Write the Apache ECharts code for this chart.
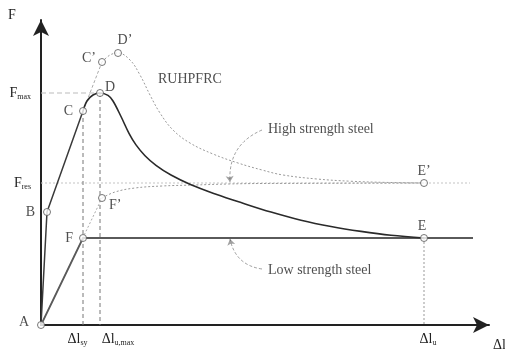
<!DOCTYPE html>
<html><head><meta charset="utf-8">
<script src="https://cdn.jsdelivr.net/npm/echarts@6/dist/echarts.min.js"></script>
<style>html,body{margin:0;padding:0;background:#fff}#c{width:505px;height:351px}</style>
</head><body><div id="c"></div>
<script>
// ---- data (schematic units: displacement, force) ----
const pointNames = ['A','B','C','D','C\u2019','D\u2019','F','F\u2019','E','E\u2019'];
const pointX = [0, 6, 42, 59, 61, 77, 42, 61, 383, 383];
const pointY = [0, 113, 214, 232, 263, 272, 87, 127, 87, 142];

const ruhpfrcLinear = [[0,0],[6,113],[42,214]];
const ruhpfrcCurve = [[42,214],[46,224],[52,230],[59,232],[67,229.6],[72,224],[80,208.5],[88,191.7],[95,180.1],[104,169.3],[115,159.7],[130,150],[150,140.3],[175,130.8],[200,122.4],[230,112.9],[260,104.8],[290,98.5],[320,93.6],[350,89.7],[383,87]];
const combinedRise = [[42,214],[61,263]];
const combinedCurve = [[61,263],[69,270],[77,272],[89,265],[99,250],[109,230],[119,212],[132,195],[149,182],[172,171],[197,162],[221,155],[242,150],[276,146],[309,143.8],[345,142.6],[383,142]];
const highSteelLinear = [[0,0],[61,127]];
const highSteelCurve = [[61,127],[74,133],[94,137],[121,139],[154,140],[187,141],[221,141.5],[383,142]];
const lowSteel = [[0,0],[42,87],[383,87],[432,87]];
const fResLine = [[0,142],[429,142]];
const fMaxLine = [[0,232],[59,232]];
const vSy = [[42,214],[42,0]];
const vUmax = [[59,232],[59,0]];
const vU = [[383,87],[383,0]];
const fMax = 232, fRes = 142;
const xTickValues = [42, 59, 383];
const xTickSubs = ['sy', 'u,max', 'u'];
const annotations = [
  {name:'RUHPFRC', value:[117,246]},
  {name:'High strength steel', value:[227,196]},
  {name:'Low strength steel', value:[227,55]}
];
const arrowHigh = [[221,195],[189,143]];
const arrowLow = [[221,56],[189,86]];

// ---- layout / style ----
const SERIF = '"Liberation Serif", "DejaVu Serif", serif';
const labelLayout = {
  'A':['left',[-2,-3]], 'B':['left',[-2,0]], 'C':['left',[0,0]], 'D':['right',[-5,-6]],
  'C\u2019':['left',[4,-4]], 'D\u2019':['top',[7,4]], 'F':['left',[0,0]], 'F\u2019':['right',[-3,7]],
  'E':['top',[-2,5]], 'E\u2019':['top',[0,5]]
};
const pointData = pointNames.map((n,i)=>({
  name:n, value:[pointX[i], pointY[i]],
  label:{position:labelLayout[n][0], offset:labelLayout[n][1]}
}));

function line(data, color, width, type, smooth, z){
  return {type:'line', data:data, showSymbol:false, symbol:'none', smooth:smooth||false,
    lineStyle:{color:color, width:width, type:type||'solid'}, silent:true, z:z||2, animation:false};
}

const chart = echarts.init(document.getElementById('c'), null, {renderer:'canvas'});
const subStyle = {sy:'s0', 'u,max':'s1', u:'s2'};
const headStyle = {sy:'d', 'u,max':'d1', u:'d2'};
chart.setOption({
  animation:false,
  grid:{left:41, right:16, top:20, bottom:26, containLabel:false, outerBoundsMode:'none'},
  xAxis:{type:'value', min:0, max:448,
    axisLine:{lineStyle:{color:'#222', width:2}, symbol:['none','arrow'], symbolSize:[12,16]},
    axisTick:{show:false}, splitLine:{show:false},
    name:'\u0394l', nameLocation:'end', nameGap:4,
    nameTextStyle:{fontFamily:SERIF, fontSize:14, color:'#222', verticalAlign:'top', align:'left', padding:[13,0,0,0]},
    axisLabel:{customValues:xTickValues, margin:6,
      formatter:function(v){const s=xTickSubs[xTickValues.indexOf(v)]; return '{'+headStyle[s]+'|\u0394l}{'+subStyle[s]+'|'+s+'}';},
      rich:{
        d:{fontFamily:SERIF, fontSize:14, color:'#222'},
        d1:{fontFamily:SERIF, fontSize:14, color:'#222', padding:[0,0,0,36]},
        d2:{fontFamily:SERIF, fontSize:14, color:'#222', padding:[0,0,0,8]},
        s0:{fontFamily:SERIF, fontSize:8, color:'#222', padding:[8,11,0,0]},
        s1:{fontFamily:SERIF, fontSize:8, color:'#222', padding:[8,0,0,0]},
        s2:{fontFamily:SERIF, fontSize:8, color:'#222', padding:[8,0,0,0]}
      }}
  },
  yAxis:{type:'value', min:0, max:305,
    axisLine:{lineStyle:{color:'#222', width:2}, symbol:['none','arrow'], symbolSize:[12,16]},
    axisTick:{show:false}, splitLine:{show:false},
    name:'F', nameLocation:'end', nameGap:-2,
    nameTextStyle:{fontFamily:SERIF, fontSize:14, color:'#222', align:'center', padding:[0,58,0,0]},
    axisLabel:{customValues:[fMax, fRes], margin:10,
      formatter:function(v){return v===fMax?'{f|F}{s|max}':'{f|F}{s|res}';},
      rich:{f:{fontFamily:SERIF, fontSize:14, color:'#222'},
            s:{fontFamily:SERIF, fontSize:8, color:'#222', padding:[8,0,0,0]}}}
  },
  series:[
    line(fMaxLine, '#bbbbbb', 1, [5,3]),
    line(fResLine, '#c4c4c4', 1, [2,2]),
    line(vSy, '#777', 1, [4,3]),
    line(vUmax, '#777', 1, [4,3]),
    line(vU, '#999', 1, [2,2]),
    line(lowSteel, '#5a5a5a', 1.8, 'solid', false, 3),
    line(highSteelLinear, '#aaaaaa', 1, [2,2]),
    line(highSteelCurve, '#999999', 1, [2,2], 0.4),
    line(combinedRise, '#aaaaaa', 1, [3,2]),
    line(combinedCurve, '#999999', 1, [2,2], 0.4),
    line(ruhpfrcLinear, '#3a3a3a', 1.5, 'solid', false, 4),
    line(ruhpfrcCurve, '#2a2a2a', 1.6, 'solid', 0.35, 4),
    {type:'lines', coordinateSystem:'cartesian2d', silent:true, z:3,
      symbol:['none','arrow'], symbolSize:6,
      lineStyle:{color:'#444', width:1, type:[3,2], curveness:-0.35},
      data:[{coords:arrowHigh},{coords:arrowLow, lineStyle:{curveness:0.35}}]},
    {type:'scatter', data:annotations, symbolSize:0, silent:true, z:6,
      label:{show:true, position:'right', distance:0, formatter:'{b}', fontFamily:SERIF, fontSize:14, color:'#222'}},
    {type:'scatter', data:pointData, symbol:'circle', symbolSize:7, silent:true, z:10,
      itemStyle:{color:'#fff', borderColor:'#555', borderWidth:1},
      label:{show:true, formatter:'{b}', fontFamily:SERIF, fontSize:14, color:'#222', distance:6}}
  ]
});
</script></body></html>
